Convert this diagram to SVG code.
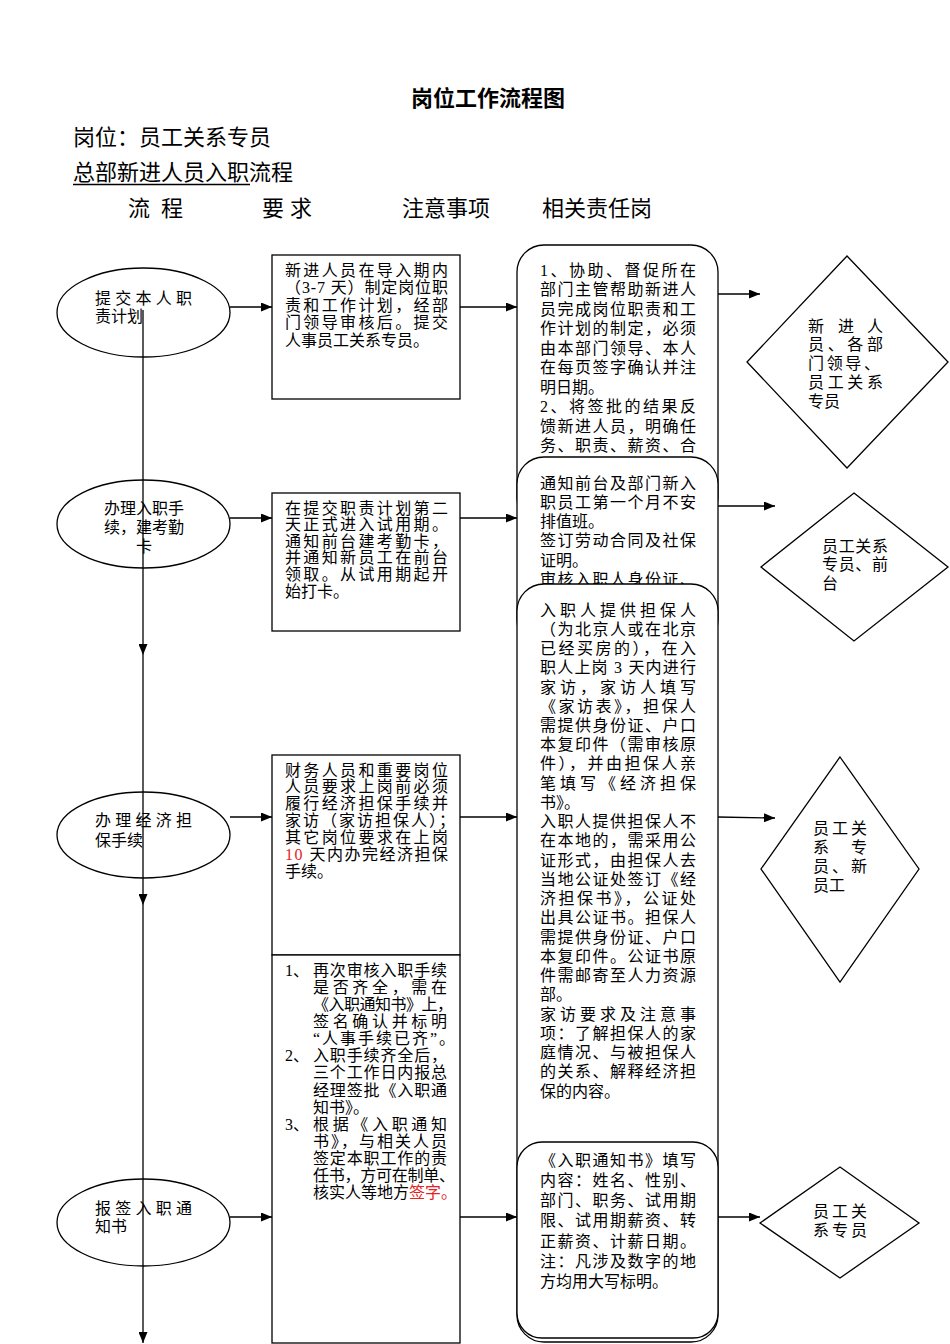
<svg xmlns="http://www.w3.org/2000/svg" width="950" height="1344" viewBox="0 0 950 1344">
<style>
text{font-family:"Liberation Serif","Noto Sans CJK SC",serif;fill:#000}
.t{font-size:16px}
.h{font-size:22px;font-family:"Noto Sans CJK SC",sans-serif}
.title{font-size:22px;font-weight:bold;font-family:"Noto Sans CJK SC",sans-serif}
.red{fill:#e52222}
.s{fill:#fff;stroke:#000;stroke-width:1.3}
.c{fill:none;stroke:#000;stroke-width:1.3}
</style>
<defs>
<marker id="ah" markerUnits="userSpaceOnUse" markerWidth="11" markerHeight="9" refX="11" refY="4.5" orient="auto">
<path d="M0,0 L11,4.5 L0,9 z" fill="#000"/>
</marker>
</defs>
<rect width="950" height="1344" fill="#fff"/>

<g id="header">
<text class="title" x="411" y="106">岗位工作流程图</text>
<text class="h" x="73" y="145">岗位：员工关系专员</text>
<text class="h" x="73" y="180">总部新进人员入职流程</text>
<line x1="73" y1="184.5" x2="250" y2="184.5" stroke="#000" stroke-width="1.3"/>
<text class="h" x="128" y="216">流</text><text class="h" x="161" y="216">程</text>
<text class="h" x="262" y="216">要</text><text class="h" x="290" y="216">求</text>
<text class="h" x="402" y="216">注意事项</text>
<text class="h" x="542" y="216">相关责任岗</text>
</g>

<!-- Column 1: process ellipses -->
<g id="p1">
<ellipse class="s" cx="143.5" cy="312.5" rx="86.5" ry="44.5"/>
<text class="t" x="95" y="303.5" textLength="97" lengthAdjust="spacing">提交本人职</text>
<text class="t" x="95" y="321.5">责计划</text>
</g>
<g id="p2">
<ellipse class="s" cx="143.5" cy="524" rx="86.5" ry="44"/>
<text class="t" x="144" y="513.5" text-anchor="middle">办理入职手</text>
<text class="t" x="144" y="533" text-anchor="middle">续，建考勤</text>
<text class="t" x="144" y="551.5" text-anchor="middle">卡</text>
</g>
<g id="p3">
<ellipse class="s" cx="143.5" cy="835" rx="86.5" ry="43"/>
<text class="t" x="95" y="825.5" textLength="97" lengthAdjust="spacing">办理经济担</text>
<text class="t" x="95" y="845.5">保手续</text>
</g>
<g id="p4">
<ellipse class="s" cx="143.5" cy="1222.5" rx="86.5" ry="43.5"/>
<text class="t" x="95" y="1213.5" textLength="97" lengthAdjust="spacing">报签入职通</text>
<text class="t" x="95" y="1231.5">知书</text>
</g>

<!-- Column 2: requirements -->
<g id="r1">
<rect class="s" x="272" y="255" width="188" height="144"/>
<text class="t" x="285" y="275.5" textLength="163" lengthAdjust="spacing">新进人员在导入期内</text>
<text class="t" x="285" y="293" textLength="163" lengthAdjust="spacing">（3-7 天）制定岗位职</text>
<text class="t" x="285" y="310.5" textLength="163" lengthAdjust="spacing">责和工作计划，经部</text>
<text class="t" x="285" y="328" textLength="163" lengthAdjust="spacing">门领导审核后。提交</text>
<text class="t" x="285" y="345.5">人事员工关系专员。</text>
</g>
<g id="r2">
<rect class="s" x="272" y="493" width="188" height="138"/>
<text class="t" x="285" y="513.5" textLength="163" lengthAdjust="spacing">在提交职责计划第二</text>
<text class="t" x="285" y="530.1" textLength="163" lengthAdjust="spacing">天正式进入试用期。</text>
<text class="t" x="285" y="546.7" textLength="163" lengthAdjust="spacing">通知前台建考勤卡，</text>
<text class="t" x="285" y="563.3" textLength="163" lengthAdjust="spacing">并通知新员工在前台</text>
<text class="t" x="285" y="579.9" textLength="163" lengthAdjust="spacing">领取。从试用期起开</text>
<text class="t" x="285" y="596.5">始打卡。</text>
</g>
<g id="r3">
<rect class="s" x="272" y="755" width="188" height="200"/>
<text class="t" x="285" y="775.5" textLength="163" lengthAdjust="spacing">财务人员和重要岗位</text>
<text class="t" x="285" y="792.3" textLength="163" lengthAdjust="spacing">人员要求上岗前必须</text>
<text class="t" x="285" y="809.2" textLength="163" lengthAdjust="spacing">履行经济担保手续并</text>
<text class="t" x="285" y="826" textLength="170" lengthAdjust="spacing">家访（家访担保人）；</text>
<text class="t" x="285" y="842.8" textLength="163" lengthAdjust="spacing">其它岗位要求在上岗</text>
<text class="t" x="285" y="859.7" textLength="163" lengthAdjust="spacing"><tspan class="red">10</tspan> 天内办完经济担保</text>
<text class="t" x="285" y="876.5">手续。</text>
</g>
<g id="r4">
<rect class="s" x="272" y="955" width="188" height="388"/>
<text class="t" x="285" y="975.5">1、</text>
<text class="t" x="313" y="975.5" textLength="134" lengthAdjust="spacing">再次审核入职手续</text>
<text class="t" x="313" y="992.6" textLength="134" lengthAdjust="spacing">是否齐全，需在</text>
<text class="t" x="313" y="1009.8" textLength="140" lengthAdjust="spacing">《入职通知书》上，</text>
<text class="t" x="313" y="1026.9" textLength="134" lengthAdjust="spacing">签名确认并标明</text>
<text class="t" x="313" y="1044.1" textLength="142" lengthAdjust="spacing">“人事手续已齐”。</text>
<text class="t" x="285" y="1061.2">2、</text>
<text class="t" x="313" y="1061.2" textLength="134" lengthAdjust="spacing">入职手续齐全后，</text>
<text class="t" x="313" y="1078.4" textLength="134" lengthAdjust="spacing">三个工作日内报总</text>
<text class="t" x="313" y="1095.5" textLength="134" lengthAdjust="spacing">经理签批《入职通</text>
<text class="t" x="313" y="1112.7">知书》。</text>
<text class="t" x="285" y="1129.8">3、</text>
<text class="t" x="313" y="1129.8" textLength="134" lengthAdjust="spacing">根据《入职通知</text>
<text class="t" x="313" y="1147" textLength="134" lengthAdjust="spacing">书》，与相关人员</text>
<text class="t" x="313" y="1164.1" textLength="134" lengthAdjust="spacing">签定本职工作的责</text>
<text class="t" x="313" y="1181.3" textLength="142" lengthAdjust="spacing">任书，方可在制单、</text>
<text class="t" x="313" y="1198.4">核实人等地方<tspan class="red">签字。</tspan></text>
</g>

<!-- Column 3: notes -->
<g id="n1">
<rect class="s" x="517" y="245" width="201" height="280" rx="27" ry="27"/>
<text class="t" x="540" y="275.5" textLength="156" lengthAdjust="spacing">1、协助、督促所在</text>
<text class="t" x="540" y="295" textLength="156" lengthAdjust="spacing">部门主管帮助新进人</text>
<text class="t" x="540" y="314.5" textLength="156" lengthAdjust="spacing">员完成岗位职责和工</text>
<text class="t" x="540" y="334" textLength="156" lengthAdjust="spacing">作计划的制定，必须</text>
<text class="t" x="540" y="353.5" textLength="156" lengthAdjust="spacing">由本部门领导、本人</text>
<text class="t" x="540" y="373" textLength="156" lengthAdjust="spacing">在每页签字确认并注</text>
<text class="t" x="540" y="392.5">明日期。</text>
<text class="t" x="540" y="412" textLength="156" lengthAdjust="spacing">2、将签批的结果反</text>
<text class="t" x="540" y="431.5" textLength="156" lengthAdjust="spacing">馈新进人员，明确任</text>
<text class="t" x="540" y="451" textLength="156" lengthAdjust="spacing">务、职责、薪资、合</text>
</g>
<g id="n2">
<rect class="s" x="517" y="457" width="201" height="190" rx="27" ry="27"/>
<text class="t" x="540" y="488.5" textLength="156" lengthAdjust="spacing">通知前台及部门新入</text>
<text class="t" x="540" y="507.8" textLength="156" lengthAdjust="spacing">职员工第一个月不安</text>
<text class="t" x="540" y="527.1">排值班。</text>
<text class="t" x="540" y="546.4" textLength="156" lengthAdjust="spacing">签订劳动合同及社保</text>
<text class="t" x="540" y="565.7">证明。</text>
<text class="t" x="540" y="585" textLength="156" lengthAdjust="spacing">审核入职人身份证、</text>
</g>
<g id="n3">
<rect class="s" x="517" y="584" width="201" height="758" rx="27" ry="27"/>
<text class="t" x="540" y="615.5" textLength="156" lengthAdjust="spacing">入职人提供担保人</text>
<text class="t" x="540" y="634.7" textLength="156" lengthAdjust="spacing">（为北京人或在北京</text>
<text class="t" x="540" y="654" textLength="156" lengthAdjust="spacing">已经买房的），在入</text>
<text class="t" x="540" y="673.2" textLength="156" lengthAdjust="spacing">职人上岗 3 天内进行</text>
<text class="t" x="540" y="692.5" textLength="156" lengthAdjust="spacing">家访，家访人填写</text>
<text class="t" x="540" y="711.7" textLength="156" lengthAdjust="spacing">《家访表》，担保人</text>
<text class="t" x="540" y="730.9" textLength="156" lengthAdjust="spacing">需提供身份证、户口</text>
<text class="t" x="540" y="750.2" textLength="156" lengthAdjust="spacing">本复印件（需审核原</text>
<text class="t" x="540" y="769.4" textLength="156" lengthAdjust="spacing">件），并由担保人亲</text>
<text class="t" x="540" y="788.7" textLength="156" lengthAdjust="spacing">笔填写《经济担保</text>
<text class="t" x="540" y="807.9">书》。</text>
<text class="t" x="540" y="827.1" textLength="156" lengthAdjust="spacing">入职人提供担保人不</text>
<text class="t" x="540" y="846.4" textLength="156" lengthAdjust="spacing">在本地的，需采用公</text>
<text class="t" x="540" y="865.6" textLength="156" lengthAdjust="spacing">证形式，由担保人去</text>
<text class="t" x="540" y="884.9" textLength="156" lengthAdjust="spacing">当地公证处签订《经</text>
<text class="t" x="540" y="904.1" textLength="156" lengthAdjust="spacing">济担保书》，公证处</text>
<text class="t" x="540" y="923.3" textLength="156" lengthAdjust="spacing">出具公证书。担保人</text>
<text class="t" x="540" y="942.6" textLength="156" lengthAdjust="spacing">需提供身份证、户口</text>
<text class="t" x="540" y="961.8" textLength="156" lengthAdjust="spacing">本复印件。公证书原</text>
<text class="t" x="540" y="981.1" textLength="156" lengthAdjust="spacing">件需邮寄至人力资源</text>
<text class="t" x="540" y="1000.3">部。</text>
<text class="t" x="540" y="1019.5" textLength="156" lengthAdjust="spacing">家访要求及注意事</text>
<text class="t" x="540" y="1038.8" textLength="156" lengthAdjust="spacing">项：了解担保人的家</text>
<text class="t" x="540" y="1058" textLength="156" lengthAdjust="spacing">庭情况、与被担保人</text>
<text class="t" x="540" y="1077.3" textLength="156" lengthAdjust="spacing">的关系、解释经济担</text>
<text class="t" x="540" y="1096.5">保的内容。</text>
</g>
<g id="n4">
<rect class="s" x="517" y="1142" width="201" height="196" rx="25" ry="25"/>
<text class="t" x="540" y="1165.5" textLength="156" lengthAdjust="spacing">《入职通知书》填写</text>
<text class="t" x="540" y="1185.8" textLength="156" lengthAdjust="spacing">内容：姓名、性别、</text>
<text class="t" x="540" y="1206.1" textLength="156" lengthAdjust="spacing">部门、职务、试用期</text>
<text class="t" x="540" y="1226.4" textLength="156" lengthAdjust="spacing">限、试用期薪资、转</text>
<text class="t" x="540" y="1246.7" textLength="156" lengthAdjust="spacing">正薪资、计薪日期。</text>
<text class="t" x="540" y="1267" textLength="156" lengthAdjust="spacing">注：凡涉及数字的地</text>
<text class="t" x="540" y="1287.3">方均用大写标明。</text>
</g>

<!-- Column 4: responsible posts -->
<g id="d1">
<polygon class="s" points="847,256 948,362 847,468 747,362"/>
<text class="t" x="808" y="331.5">新</text><text class="t" x="838" y="331.5">进</text><text class="t" x="867" y="331.5">人</text>
<text class="t" x="808" y="350.3" textLength="75" lengthAdjust="spacing">员、各部</text>
<text class="t" x="808" y="369.1" textLength="72" lengthAdjust="spacing">门领导、</text>
<text class="t" x="808" y="387.9" textLength="75" lengthAdjust="spacing">员工关系</text>
<text class="t" x="808" y="406.7">专员</text>
</g>
<g id="d2">
<polygon class="s" points="854,493 948,567 854,641 761,567"/>
<text class="t" x="822" y="551.5" textLength="66" lengthAdjust="spacing">员工关系</text>
<text class="t" x="822" y="570.2" textLength="66" lengthAdjust="spacing">专员、前</text>
<text class="t" x="822" y="588.9">台</text>
</g>
<g id="d3">
<polygon class="s" points="840,757 919,869 840,982 761,869"/>
<text class="t" x="813" y="833.5" textLength="54" lengthAdjust="spacing">员工关</text>
<text class="t" x="813" y="852.8">系</text><text class="t" x="851" y="852.8">专</text>
<text class="t" x="813" y="872.1" textLength="54" lengthAdjust="spacing">员、新</text>
<text class="t" x="813" y="891.4">员工</text>
</g>
<g id="d4">
<polygon class="s" points="840,1167 919,1223 840,1278 760,1223"/>
<text class="t" x="813" y="1216.5" textLength="54" lengthAdjust="spacing">员工关</text>
<text class="t" x="813" y="1235.5" textLength="54" lengthAdjust="spacing">系专员</text>
</g>

<g id="connectors">
<path class="c" d="M143,310 V655" marker-end="url(#ah)"/>
<path class="c" d="M143,655 V905" marker-end="url(#ah)"/>
<path class="c" d="M143,905 V1343" marker-end="url(#ah)"/>
<path class="c" d="M230,307 H272" marker-end="url(#ah)"/>
<path class="c" d="M460,307 H517" marker-end="url(#ah)"/>
<path class="c" d="M718,294 H760" marker-end="url(#ah)"/>
<path class="c" d="M230,518 H272" marker-end="url(#ah)"/>
<path class="c" d="M460,518 H517" marker-end="url(#ah)"/>
<path class="c" d="M718,506 H775" marker-end="url(#ah)"/>
<path class="c" d="M230,817 H272" marker-end="url(#ah)"/>
<path class="c" d="M460,817 H517" marker-end="url(#ah)"/>
<path class="c" d="M718,817 L775,818" marker-end="url(#ah)"/>
<path class="c" d="M230,1217 H272" marker-end="url(#ah)"/>
<path class="c" d="M460,1217 H517" marker-end="url(#ah)"/>
<path class="c" d="M718,1217 H760" marker-end="url(#ah)"/>
</g>
</svg>
